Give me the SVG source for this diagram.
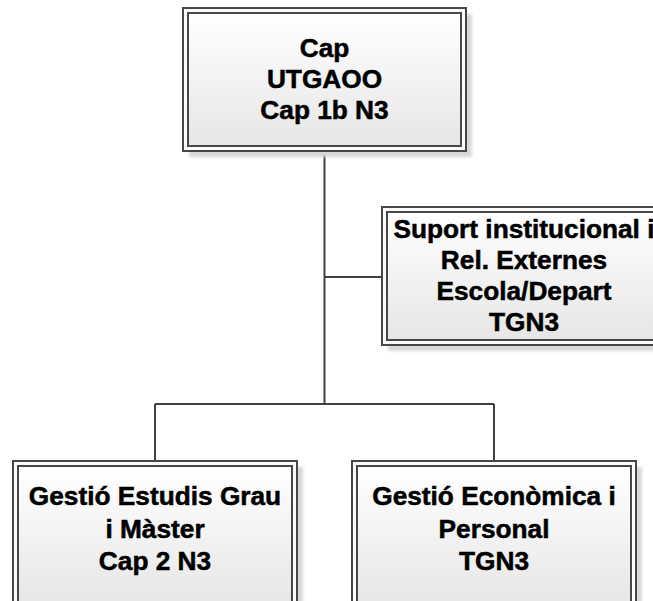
<svg xmlns="http://www.w3.org/2000/svg" width="653" height="601" viewBox="0 0 653 601">
  <defs>
    <linearGradient id="boxFill" x1="0" y1="0" x2="0" y2="1">
      <stop offset="0" stop-color="#ffffff"/>
      <stop offset="1" stop-color="#e6e6e6"/>
    </linearGradient>
    <filter id="blur" x="-10%" y="-10%" width="120%" height="120%">
      <feGaussianBlur stdDeviation="1.5"/>
    </filter>
  </defs>
  <style>
    .shadow { fill: #d8d8d8; filter: url(#blur); }
    .outer { fill: #fbfbfb; stroke: #474747; stroke-width: 2; }
    .inner { fill: url(#boxFill); stroke: #474747; stroke-width: 2; }
    .lbl { font-family: "Liberation Sans", Arial, sans-serif; font-weight: bold; font-size: 25px; fill: #000; stroke: #000; stroke-width: 0.5; text-anchor: middle; }
    .conn { stroke: #404040; stroke-width: 2; fill: none; }
  </style>
  <rect width="653" height="601" fill="#ffffff"/>

  <g id="connectors">
    <path class="conn" d="M324.5 151 V404"/>
    <path class="conn" d="M324.5 277 H382"/>
    <path class="conn" d="M155 404 H494"/>
    <path class="conn" d="M155 404 V461"/>
    <path class="conn" d="M494 404 V461"/>
  </g>

  <g id="node-cap">
    <rect class="shadow" x="189" y="14" width="283" height="143"/>
    <rect class="outer" x="183" y="8" width="283" height="143"/>
    <rect class="inner" x="188" y="13" width="273" height="133"/>
    <g transform="translate(324.5 0) scale(1.05 1)">
      <text class="lbl" x="0" y="57">Cap</text>
      <text class="lbl" x="0" y="88">UTGAOO</text>
      <text class="lbl" x="0" y="119">Cap 1b N3</text>
    </g>
  </g>

  <g id="node-suport">
    <rect class="shadow" x="388" y="213" width="284" height="138"/>
    <rect class="outer" x="382" y="207" width="284" height="138"/>
    <rect class="inner" x="387" y="212" width="274" height="128"/>
    <g transform="translate(524 0) scale(1.05 1)">
      <text class="lbl" x="0" y="238">Suport institucional i</text>
      <text class="lbl" x="0" y="269">Rel. Externes</text>
      <text class="lbl" x="0" y="300">Escola/Depart</text>
      <text class="lbl" x="0" y="331">TGN3</text>
    </g>
  </g>

  <g id="node-estudis">
    <rect class="shadow" x="19" y="467" width="284" height="150"/>
    <rect class="outer" x="13" y="461" width="284" height="150"/>
    <rect class="inner" x="18" y="466" width="274" height="140"/>
    <g transform="translate(155 0) scale(1.05 1)">
      <text class="lbl" x="0" y="505">Gestió Estudis Grau</text>
      <text class="lbl" x="0" y="538">i Màster</text>
      <text class="lbl" x="0" y="570">Cap 2 N3</text>
    </g>
  </g>

  <g id="node-economica">
    <rect class="shadow" x="358" y="467" width="284" height="150"/>
    <rect class="outer" x="352" y="461" width="284" height="150"/>
    <rect class="inner" x="357" y="466" width="274" height="140"/>
    <g transform="translate(494 0) scale(1.05 1)">
      <text class="lbl" x="0" y="505">Gestió Econòmica i</text>
      <text class="lbl" x="0" y="538">Personal</text>
      <text class="lbl" x="0" y="570">TGN3</text>
    </g>
  </g>
</svg>
